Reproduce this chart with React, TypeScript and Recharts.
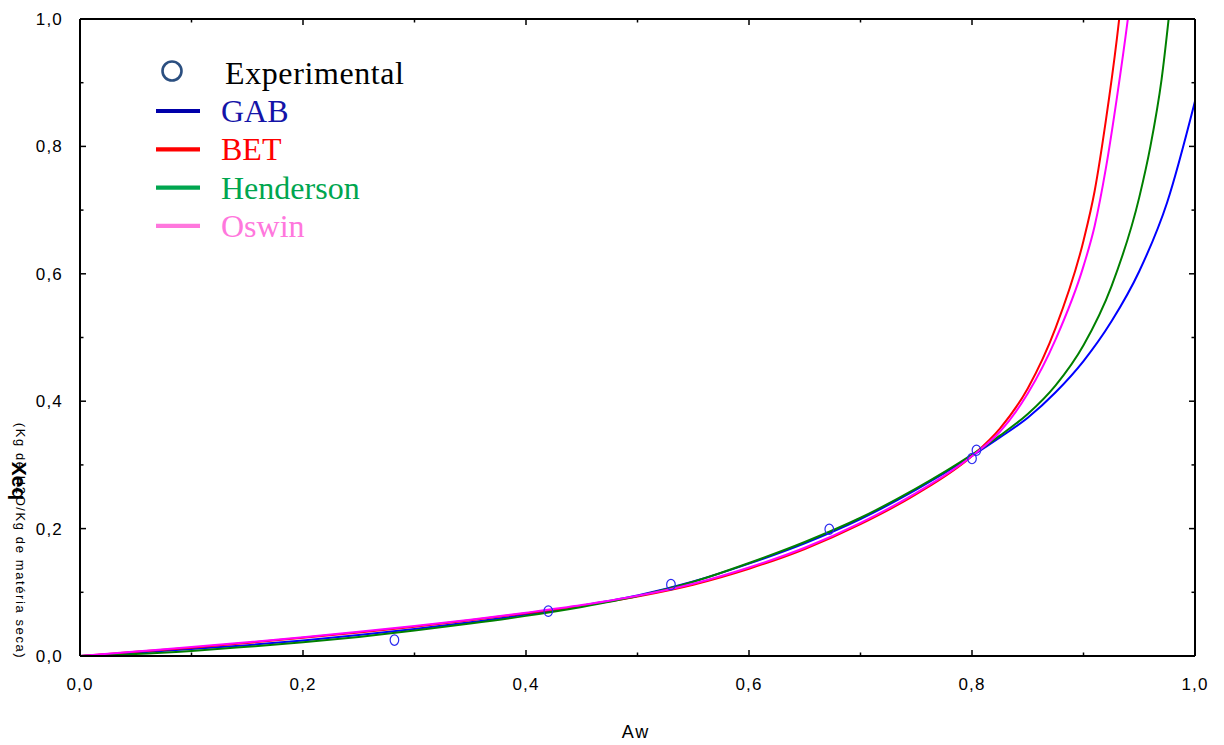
import React from 'react';
import { ComposedChart, Line, Scatter, XAxis, YAxis } from 'recharts';

// Experimental points
const expAw = [0.282, 0.42, 0.53, 0.672, 0.8, 0.804];
const expX = [0.025, 0.0705, 0.112, 0.199, 0.31, 0.323];

// Shared low-range abscissa
const lowAw = [0, 0.05, 0.1, 0.15, 0.2, 0.25, 0.3, 0.35, 0.4, 0.45, 0.5, 0.55, 0.6, 0.65, 0.7, 0.75, 0.8];

// GAB
const gabLow = [0, 0.005, 0.011, 0.017, 0.0245, 0.033, 0.0425, 0.053, 0.065, 0.079, 0.095, 0.117, 0.145, 0.177, 0.215, 0.261, 0.314];
const gabTailAw = [0.825, 0.85, 0.875, 0.9, 0.925, 0.95, 0.975, 1.0];
const gabTail = [0.343, 0.374, 0.414, 0.463, 0.525, 0.604, 0.712, 0.871];

// BET
const betLow = [0, 0.0065, 0.013, 0.0205, 0.0285, 0.037, 0.046, 0.056, 0.067, 0.079, 0.0935, 0.112, 0.137, 0.168, 0.207, 0.254, 0.314];
const betTailAw = [0.825, 0.85, 0.875, 0.9, 0.91, 0.92, 0.93, 0.94];
const betTail = [0.357, 0.42, 0.515, 0.652, 0.73, 0.84, 0.97, 1.13];

// Henderson
const henLow = [0, 0.003, 0.008, 0.0145, 0.0215, 0.03, 0.04, 0.051, 0.063, 0.077, 0.094, 0.1165, 0.146, 0.179, 0.217, 0.263, 0.316];
const henTailAw = [0.825, 0.85, 0.875, 0.9, 0.925, 0.95, 0.96, 0.97, 0.98];
const henTail = [0.346, 0.38, 0.425, 0.488, 0.58, 0.72, 0.8, 0.905, 1.06];

// Oswin
const oswLow = [0, 0.007, 0.014, 0.0215, 0.0295, 0.038, 0.047, 0.057, 0.068, 0.08, 0.0945, 0.1135, 0.139, 0.17, 0.209, 0.256, 0.314];
const oswTailAw = [0.825, 0.85, 0.875, 0.9, 0.91, 0.92, 0.93, 0.94, 0.95];
const oswTail = [0.352, 0.412, 0.497, 0.612, 0.675, 0.765, 0.877, 1.003, 1.15];

const labelTicks = [0, 0.2, 0.4, 0.6, 0.8, 1.0];
const frameTicks = [0.1, 0.2, 0.3, 0.4, 0.5, 0.6, 0.7, 0.8, 0.9];
const frameAnchor = [0, 1];

const legendItems = [
  { name: 'GAB', line: '#0000aa', text: '#1414a8' },
  { name: 'BET', line: '#ff0000', text: '#ff0000' },
  { name: 'Henderson', line: '#00a64f', text: '#00a64f' },
  { name: 'Oswin', line: '#ff77dd', text: '#ff77dd' },
];

const rows = (xs: number[], ys: number[]) => xs.map((x, i) => ({ x, y: ys[i] }));
const gabData = rows([...lowAw, ...gabTailAw], [...gabLow, ...gabTail]);
const betData = rows([...lowAw, ...betTailAw], [...betLow, ...betTail]);
const henData = rows([...lowAw, ...henTailAw], [...henLow, ...henTail]);
const oswData = rows([...lowAw, ...oswTailAw], [...oswLow, ...oswTail]);
const expData = rows(expAw, expX);
const anchorData = rows(frameAnchor, frameAnchor);

const fmt = (v: number) => v.toFixed(1).replace('.', ',');

const frameTick = (side: 'left' | 'right' | 'top' | 'bottom') => (props: any) => {
  const { x, y, payload } = props;
  const major = Math.round(payload.value * 10) % 2 === 0;
  const len = major ? 6 : 3.5;
  let x2 = x;
  let y2 = y;
  if (side === 'left') x2 = x + len;
  if (side === 'right') x2 = x - len;
  if (side === 'top') y2 = y + len;
  if (side === 'bottom') y2 = y - len;
  return <line x1={x} y1={y} x2={x2} y2={y2} stroke="#000" strokeWidth={1.5} />;
};

const ExpDot = (props: any) => {
  const { cx, cy } = props;
  if (cx == null || cy == null) return null;
  return <ellipse cx={cx} cy={cy} rx={4.3} ry={5.2} fill="none" stroke="#2a2af0" strokeWidth={1.2} />;
};

const tickFont = { fontSize: 17, fill: '#000', fontFamily: '"Liberation Sans", Arial, sans-serif', letterSpacing: 1.2 };
const frameLine = { stroke: '#000', strokeWidth: 2 };

export default function App() {
  return (
    <div style={{ position: 'absolute', left: 0, top: 0, width: 1224, height: 745, background: '#fff' }}>
      <ComposedChart width={1224} height={745} margin={{ top: 19, right: 29, bottom: 59, left: 0 }}>
        <XAxis xAxisId={0} dataKey="x" type="number" domain={[0, 1]} allowDataOverflow ticks={labelTicks}
          interval={0} tickFormatter={fmt} tickLine={false} tickSize={0} tickMargin={22} height={30}
          axisLine={frameLine} tick={tickFont} />
        <XAxis xAxisId="bm" dataKey="x" type="number" domain={[0, 1]} allowDataOverflow ticks={frameTicks} interval={0}
          orientation="bottom" mirror height={1} tickSize={0} tickMargin={0} tickLine={false} axisLine={false}
          tick={frameTick('bottom')} />
        <XAxis xAxisId="tm" dataKey="x" type="number" domain={[0, 1]} allowDataOverflow ticks={frameTicks} interval={0}
          orientation="top" mirror height={1} tickSize={0} tickMargin={0} tickLine={false} axisLine={frameLine}
          tick={frameTick('top')} />
        <YAxis yAxisId={0} dataKey="y" type="number" domain={[0, 1]} allowDataOverflow ticks={labelTicks}
          interval={0} tickFormatter={fmt} tickLine={false} tickSize={0} tickMargin={17} width={80}
          axisLine={frameLine} tick={tickFont} />
        <YAxis yAxisId="lm" dataKey="y" type="number" domain={[0, 1]} allowDataOverflow ticks={frameTicks} interval={0}
          orientation="left" mirror width={1} tickSize={0} tickMargin={0} tickLine={false} axisLine={false}
          tick={frameTick('left')} />
        <YAxis yAxisId="rm" dataKey="y" type="number" domain={[0, 1]} allowDataOverflow ticks={frameTicks} interval={0}
          orientation="right" mirror width={1} tickSize={0} tickMargin={0} tickLine={false} axisLine={frameLine}
          tick={frameTick('right')} />
        <Line data={anchorData} xAxisId="bm" yAxisId="lm" dataKey="y" stroke="none" dot={false} activeDot={false} legendType="none" isAnimationActive={false} />
        <Line data={anchorData} xAxisId="tm" yAxisId="rm" dataKey="y" stroke="none" dot={false} activeDot={false} legendType="none" isAnimationActive={false} />
        <Line data={gabData} dataKey="y" type="monotone" stroke="#0000ff" strokeWidth={2} dot={false} isAnimationActive={false} />
        <Line data={betData} dataKey="y" type="monotone" stroke="#ff0000" strokeWidth={2} dot={false} isAnimationActive={false} />
        <Line data={henData} dataKey="y" type="monotone" stroke="#008000" strokeWidth={2} dot={false} isAnimationActive={false} />
        <Line data={oswData} dataKey="y" type="monotone" stroke="#ff00ff" strokeWidth={2} dot={false} isAnimationActive={false} />
        <Scatter data={expData} dataKey="y" shape={<ExpDot />} isAnimationActive={false} />
      </ComposedChart>
      <svg width={1224} height={745} style={{ position: 'absolute', left: 0, top: 0, pointerEvents: 'none' }}>
        <circle cx={172} cy={71} r={9.5} fill="none" stroke="#2b4f80" strokeWidth={2.6} />
        <text x={225} y={84} fontSize={32} letterSpacing={0.6} fontFamily='"Liberation Serif", "Times New Roman", serif' fill="#000">Experimental</text>
        {legendItems.map((it, i) => {
          const base = 122 + i * 38.3;
          return (
            <g key={it.name}>
              <line x1={156} x2={200} y1={base - 11} y2={base - 11} stroke={it.line} strokeWidth={4.2} />
              <text x={221} y={base} fontSize={32} fontFamily='"Liberation Serif", "Times New Roman", serif' fill={it.text}>{it.name}</text>
            </g>
          );
        })}
        <text transform="translate(15.5,541) rotate(90)" textAnchor="middle" fontSize={13} letterSpacing={1.6}
          fontFamily='"Liberation Sans", Arial, sans-serif' fill="#000">(Kg de H2O/Kg de matéria seca)</text>
        <text transform="translate(12,481) rotate(90)" textAnchor="middle" fontSize={21} fontWeight="bold"
          fontFamily='"Liberation Sans", Arial, sans-serif' fill="#000">Xeq</text>
        <text x={636} y={738} textAnchor="middle" fontSize={18} letterSpacing={2}
          fontFamily='"Liberation Sans", Arial, sans-serif' fill="#000">Aw</text>
      </svg>
    </div>
  );
}
